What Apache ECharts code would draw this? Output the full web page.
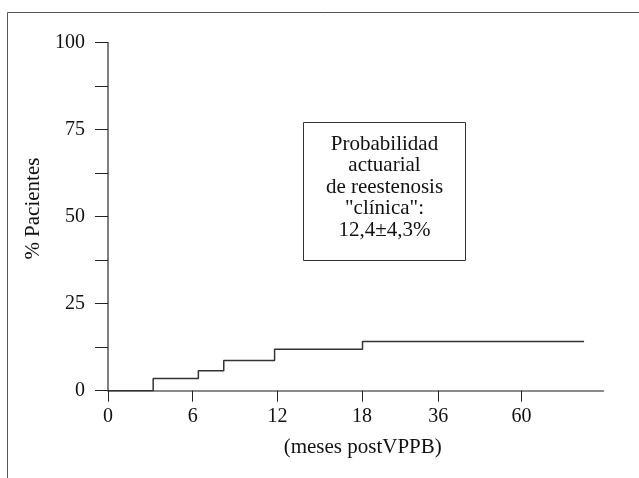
<!DOCTYPE html>
<html>
<head>
<meta charset="utf-8">
<script src="https://cdn.jsdelivr.net/npm/echarts@6/dist/echarts.min.js"></script>
<style>
  html, body { margin: 0; padding: 0; background: #fff; }
  #chart { width: 639px; height: 478px; }
</style>
</head>
<body>
<div id="chart"></div>
<script>
// ticks del eje X: meses y su posición (el eje no es lineal tras 18 meses)
const tickMonths = [0, 6, 12, 18, 36, 60]
const tickPos = [0, 6, 12, 18, 23.4, 29.3]
const xMaxPos = 35.1

// curva actuarial (escalones)
const stepMonths = [0, 3.2, 6.4, 8.2, 11.8, 18.1, 78]
const stepValues = [0, 3.5, 5.7, 8.7, 11.9, 14.1, 14.1]

const yTicks = [0, 25, 50, 75, 100]

const boxLines = ['Probabilidad', 'actuarial', 'de reestenosis', '"clínica":', '12,4±4,3%']

const serif = '"Liberation Serif", "DejaVu Serif", serif'

/** meses -> posición en el eje (escala por tramos) */
function monthToPos(m) {
  for (let i = 1; i < tickMonths.length; i++) {
    if (m <= tickMonths[i]) {
      const t = (m - tickMonths[i - 1]) / (tickMonths[i] - tickMonths[i - 1])
      return tickPos[i - 1] + t * (tickPos[i] - tickPos[i - 1])
    }
  }
  const n = tickMonths.length - 1
  const slope = (tickPos[n] - tickPos[n - 1]) / (tickMonths[n] - tickMonths[n - 1])
  return tickPos[n] + (m - tickMonths[n]) * slope
}

const chart = echarts.init(document.getElementById('chart'))

chart.setOption({
  animation: false,
  grid: { left: 108, right: 35.5, top: 42.5, bottom: 87.3 },
  xAxis: {
    type: 'value',
    min: 0,
    max: xMaxPos,
    splitLine: { show: false },
    axisLine: { lineStyle: { color: '#666', width: 1.5 } },
    axisTick: {
      customValues: tickPos,
      length: 11,
      lineStyle: { color: '#222', width: 1 }
    },
    axisLabel: {
      customValues: tickPos,
      margin: 16,
      fontFamily: serif,
      fontSize: 20,
      color: '#111',
      formatter: v => {
        const i = tickPos.findIndex(p => Math.abs(p - v) < 1e-6)
        return i >= 0 ? String(tickMonths[i]) : ''
      }
    },
    name: '(meses postVPPB)',
    nameLocation: 'middle',
    nameGap: 46,
    nameTextStyle: { fontFamily: serif, fontSize: 21, color: '#111', padding: [0, 0, 0, 14] }
  },
  yAxis: {
    type: 'value',
    min: 0,
    max: 100,
    interval: 12.5,
    splitLine: { show: false },
    axisLine: { show: true, lineStyle: { color: '#555', width: 1.5 } },
    axisTick: { show: true, length: 13, lineStyle: { color: '#222', width: 1 } },
    axisLabel: {
      customValues: yTicks,
      margin: 23,
      fontFamily: serif,
      fontSize: 20,
      color: '#111',
      padding: [7, 0, 0, 0]
    },
    name: '% Pacientes',
    nameLocation: 'middle',
    nameGap: 60,
    nameTextStyle: { fontFamily: serif, fontSize: 21, color: '#111', padding: [0, 0, 0, 16] }
  },
  series: [{
    type: 'line',
    step: 'end',
    symbol: 'none',
    data: stepMonths.map((m, i) => [monthToPos(m), stepValues[i]]),
    lineStyle: { color: '#333', width: 1.5 }
  }],
  graphic: [
    {
      type: 'rect',
      shape: { x: 7.5, y: 12.5, width: 700, height: 600 },
      style: { fill: 'none', stroke: '#555', lineWidth: 1 },
      silent: true
    },
    {
      type: 'rect',
      shape: { x: 303.5, y: 122.5, width: 162, height: 138 },
      style: { fill: '#fff', stroke: '#333', lineWidth: 1 },
      silent: true
    },
    {
      type: 'text',
      x: 384.5,
      y: 187,
      style: {
        text: boxLines.join('\n'),
        fontFamily: serif,
        fontSize: 21,
        lineHeight: 21.5,
        fill: '#111',
        align: 'center',
        verticalAlign: 'middle'
      }
    }
  ]
})
</script>
</body>
</html>
